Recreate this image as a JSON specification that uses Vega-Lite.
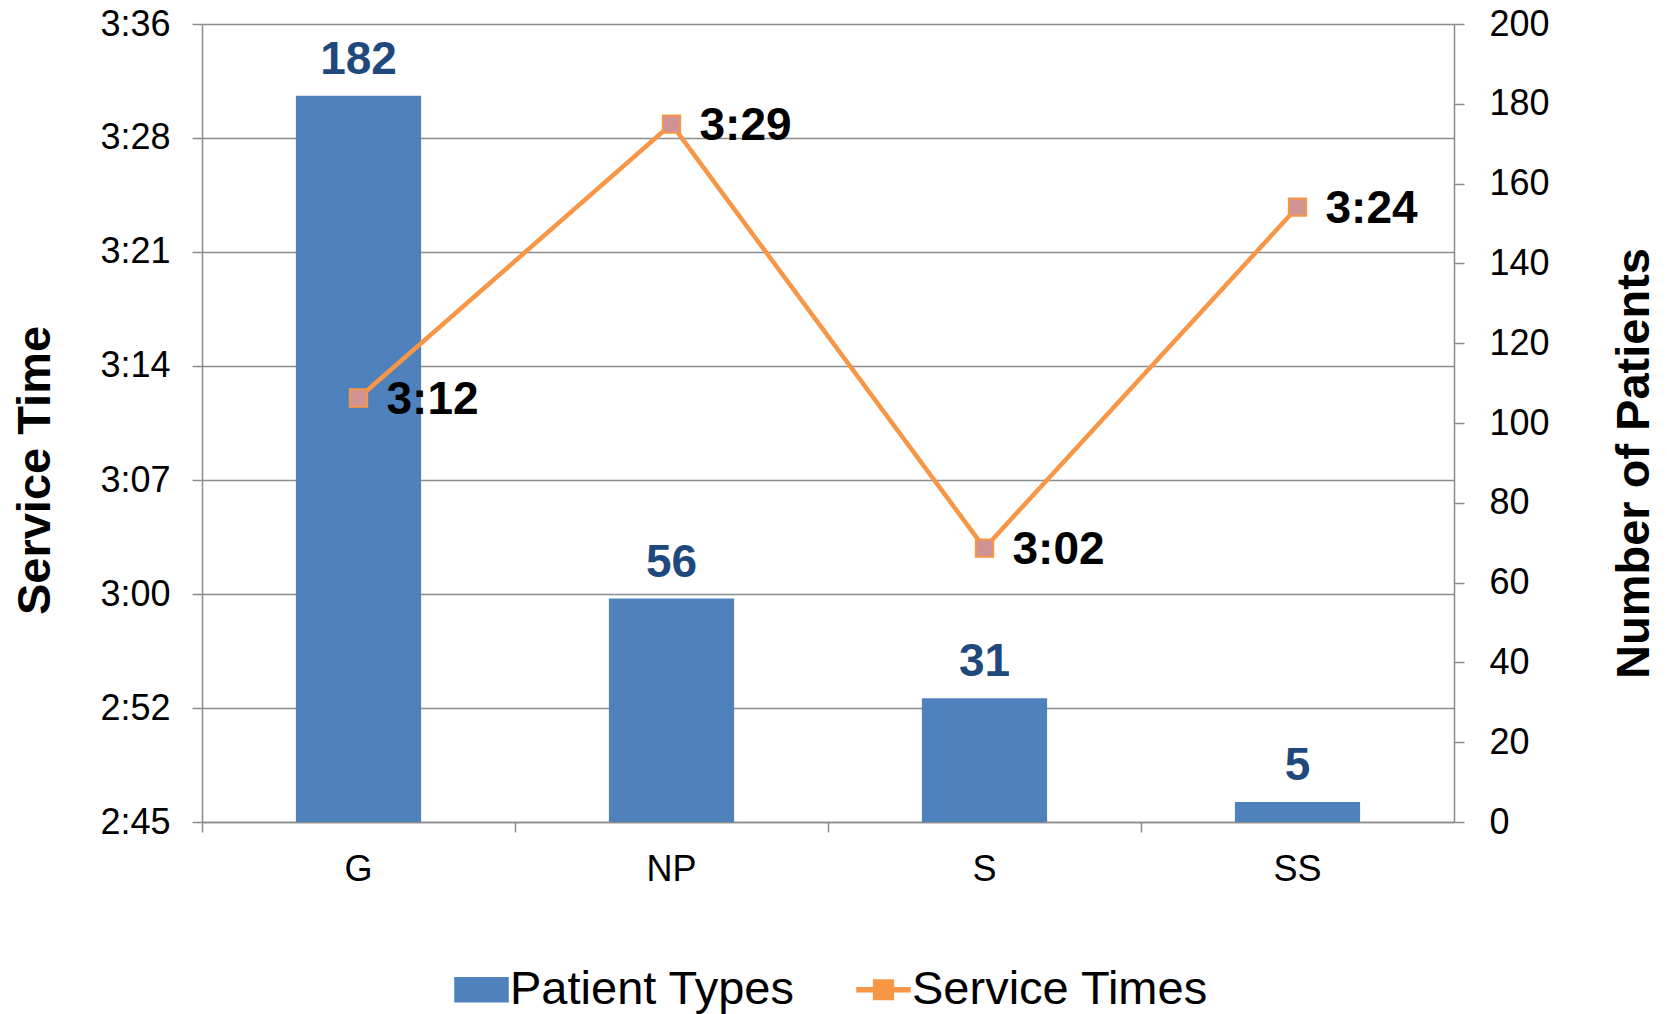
{
  "$schema": "https://vega.github.io/schema/vega-lite/v6.json",
  "width": 1252,
  "height": 798,
  "autosize": {"type": "none"},
  "padding": {"left": 202, "top": 24, "right": 213, "bottom": 192},
  "config": {"font": "Liberation Sans", "view": {"stroke": null}},
  "data": {
    "values": [
      {"type": "G", "patients": 182, "service_sec": 192.1, "service_label": "3:12"},
      {"type": "NP", "patients": 56, "service_sec": 209.6, "service_label": "3:29"},
      {"type": "S", "patients": 31, "service_sec": 182.5, "service_label": "3:02"},
      {"type": "SS", "patients": 5, "service_sec": 204.3, "service_label": "3:24"}
    ]
  },
  "encoding": {
    "x": {
      "field": "type", "type": "nominal", "sort": null,
      "scale": {"paddingInner": 0, "paddingOuter": 0},
      "axis": {
        "title": null, "labelAngle": 0, "bandPosition": 0, "tickSize": 10,
        "labelFontSize": 36, "labelColor": "#000000", "labelPadding": 20,
        "domainColor": "#8c8c8c", "tickColor": "#8c8c8c", "domainWidth": 1.5, "tickWidth": 1.5,
        "grid": false
      }
    }
  },
  "layer": [
    {
      "encoding": {
        "y": {
          "field": "patients", "type": "quantitative",
          "scale": {"domain": [0, 200]},
          "axis": {
            "orient": "right", "values": [0, 20, 40, 60, 80, 100, 120, 140, 160, 180, 200],
            "grid": false, "tickSize": 10, "labelFontSize": 36, "labelColor": "#000000", "labelPadding": 25,
            "domainColor": "#8c8c8c", "tickColor": "#8c8c8c", "domainWidth": 1.5, "tickWidth": 1.5,
            "title": "Number of Patients", "titleFontSize": 47, "titleFontWeight": "bold", "titleColor": "#000000",
            "titleAngle": 270, "titleX": 180, "titleY": 439, "titleAlign": "center", "titleBaseline": "middle"
          }
        }
      },
      "layer": [
        {
          "mark": {"type": "bar", "width": {"band": 0.4}},
          "encoding": {
            "color": {
              "datum": "Patient Types", "type": "nominal",
              "scale": {"domain": ["Patient Types", "Service Times"], "range": ["#4F81BD", "#F79646"]},
              "legend": {
                "orient": "none", "legendX": 252, "legendY": 938, "direction": "horizontal",
                "title": null, "labelFontSize": 47, "labelColor": "#000000", "labelLimit": 0,
                "symbolSize": 2704, "columnPadding": 57, "labelOffset": 1, "padding": 0,
                "encode": {
                  "symbols": {
                    "update": {
                      "shape": {"signal": "datum.value === 'Patient Types' ? 'M-1,-0.44L1,-0.44L1,0.44L-1,0.44Z' : 'M-1,-0.06L-0.36,-0.06L-0.36,0.06L-1,0.06ZM0.36,-0.06L1,-0.06L1,0.06L0.36,0.06ZM-0.36,-0.36L0.36,-0.36L0.36,0.36L-0.36,0.36Z'"},
                      "fill": {"signal": "datum.value === 'Patient Types' ? '#4F81BD' : '#D09393'"},
                      "stroke": {"signal": "datum.value === 'Patient Types' ? 'transparent' : '#F79646'"},
                      "strokeWidth": {"value": 2.5},
                      "opacity": {"value": 1},
                      "fillOpacity": {"value": 1},
                      "strokeOpacity": {"value": 1}
                    }
                  }
                }
              }
            }
          }
        },
        {
          "mark": {"type": "text", "dy": -22, "baseline": "alphabetic", "fontSize": 46, "fontWeight": "bold", "color": "#1F497D"},
          "encoding": {"text": {"field": "patients", "type": "quantitative"}}
        }
      ]
    },
    {
      "encoding": {
        "y": {
          "field": "service_sec", "type": "quantitative",
          "scale": {"domain": [165, 216], "zero": false, "nice": false},
          "axis": {
            "orient": "left",
            "values": [165, 172.2857, 179.5714, 186.8571, 194.1429, 201.4286, 208.7143, 216],
            "labelExpr": "['2:45','2:52','3:00','3:07','3:14','3:21','3:28','3:36'][round((datum.value - 165) * 7 / 51)]",
            "grid": true, "gridColor": "#8c8c8c", "gridWidth": 1.5,
            "tickSize": 10, "labelFontSize": 36, "labelColor": "#000000", "labelPadding": 22,
            "domainColor": "#8c8c8c", "tickColor": "#8c8c8c", "domainWidth": 1.5, "tickWidth": 1.5,
            "title": "Service Time", "titleFontSize": 47, "titleFontWeight": "bold", "titleColor": "#000000",
            "titleAngle": 270, "titleX": -167, "titleY": 446, "titleAlign": "center", "titleBaseline": "middle"
          }
        }
      },
      "layer": [
        {
          "mark": {"type": "line", "strokeWidth": 4.5},
          "encoding": {"color": {"datum": "Service Times", "type": "nominal"}}
        },
        {
          "mark": {"type": "point", "shape": "square", "size": 300, "filled": true, "fill": "#D09393", "stroke": "#F79646", "strokeWidth": 2, "opacity": 1}
        },
        {
          "mark": {"type": "text", "align": "left", "baseline": "middle", "dx": 28, "dy": 2, "fontSize": 46, "fontWeight": "bold", "color": "#000000"},
          "encoding": {"text": {"field": "service_label", "type": "nominal"}}
        }
      ]
    }
  ],
  "resolve": {"scale": {"y": "independent"}}
}
